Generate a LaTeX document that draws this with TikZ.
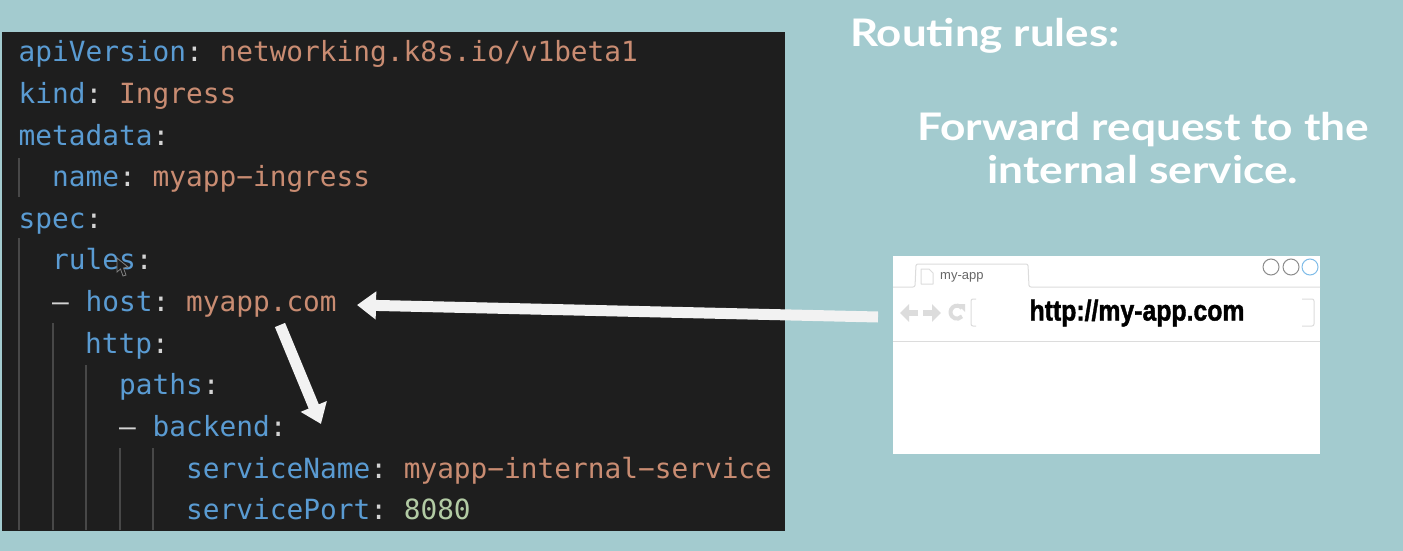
\documentclass[tikz,border=0pt]{standalone}
\usepackage{fontspec}
\usepackage{graphicx}
\usetikzlibrary{arrows.meta}
\setmonofont{DejaVu Sans Mono}
\setmainfont{Lato}
\newfontfamily\uifont{Liberation Sans}
\newfontfamily\urlfont[BoldFeatures={FakeBold=1.6}]{Liberation Sans}
\definecolor{bgteal}{HTML}{A3CBCF}
\definecolor{codebg}{HTML}{1E1E1E}
\definecolor{keyblue}{HTML}{5A9BD2}
\definecolor{valorange}{HTML}{C98C72}
\definecolor{numgreen}{HTML}{B2CBA4}
\definecolor{punct}{HTML}{D4D4D4}
\definecolor{guide}{HTML}{484848}
\definecolor{chrome}{HTML}{DCDCDC}
\definecolor{arrowwhite}{HTML}{F2F2F2}
\definecolor{winblue}{HTML}{7FBCE8}
\tikzset{
  codeline/.style={anchor=base west,inner sep=0pt,font=\ttfamily\fontsize{27.8}{30}\selectfont,text=keyblue},
  headline/.style={inner sep=0pt,text=white,font=\fontsize{38}{44}\selectfont\bfseries},
  guideline/.style={draw=guide,line width=1.2pt},
  bigarrow/.style={draw=arrowwhite,line width=11pt,-{Triangle[length=19pt,width=27pt,color=arrowwhite]}},
  navarrow/.style={draw=chrome,line width=6pt,-{Triangle[length=9pt,width=17pt,color=chrome]}},
  chromeline/.style={draw=chrome,line width=1pt},
  winbtn/.style={circle,draw=#1,line width=1pt,minimum size=16pt,inner sep=0pt}
}
\newcommand{\K}[1]{\textcolor{keyblue}{#1}}
\newcommand{\V}[1]{\textcolor{valorange}{#1}}
\newcommand{\C}{\textcolor{punct}{:}}
\newcommand{\D}{\textcolor{punct}{–}}
\begin{document}
\begin{tikzpicture}[x=1pt,y=-1pt]
\useasboundingbox (0,0) rectangle (1403,551);
\fill[bgteal] (0,0) rectangle (1403,551);
\node[fill=codebg,inner sep=0pt,minimum width=783pt,minimum height=499pt,anchor=north west] (code) at (2,32) {};
% indentation guides
\draw[guideline] (19,158)--(19,197) (19,238)--(19,530) (53,323)--(53,530) (86,365)--(86,530) (120,448)--(120,530) (153,448)--(153,530);
% code
\node[codeline] (l1) at (18.500,62) {\K{apiVersion}\C{} \V{networking.k8s.io/v1beta1}};
\node[codeline] (l2) at (18.500,103) {\K{kind}\C{} \V{Ingress}};
\node[codeline] (l3) at (18.500,145) {\K{metadata}\C};
\node[codeline] (l4) at (52,186) {\K{name}\C{} \V{myapp−ingress}};
\node[codeline] (l5) at (18.500,228) {\K{spec}\C};
\node[codeline] (l6) at (52,269) {\K{rules}\C};
\node[codeline] (l7) at (52,311) {\D{} \K{host}\C{} \V{myapp.com}};
\node[codeline] (l8) at (85,353) {\K{http}\C};
\node[codeline] (l9) at (119,394) {\K{paths}\C};
\node[codeline] (l10) at (119,436) {\D{} \K{backend}\C};
\node[codeline] (l11) at (186,478) {\K{serviceName}\C{} \V{myapp−internal−service}};
\node[codeline] (l12) at (186,519) {\K{servicePort}\C{} \textcolor{numgreen}{8080}};
% mouse pointer
\draw[fill=codebg,draw=gray,line width=.8pt] (117,258)--(117,272)--(120.500,269)--(123,276)--(126,275)--(123.500,268)--(128,267)--cycle;
% headings
\node[headline,anchor=west] (t1) at (850,36) {\scalebox{1.155}[1]{Routing rules:}};
\node[headline] (t2) at (1143,153) {\scalebox{1.165}[1]{\begin{tabular}{@{}c@{}}Forward request to the\\[-1pt]internal service.\end{tabular}}};
% browser
\node[fill=white,inner sep=0pt,minimum width=427pt,minimum height=198pt,anchor=north west] (browser) at (893,256) {};
\draw[chromeline,rounded corners=2pt] (893,287)--(915,287)--(916,264)--(1028,264)--(1029,287)--(1320,287);
\draw[chromeline] (893,341)--(1320,341);
\draw[chromeline,line join=round] (921,284)--(921,269)--(929,269)--(933,273)--(933,284)--cycle;
\node[anchor=west,inner sep=0pt,text=black!60,font=\uifont\fontsize{13}{13}\selectfont] (tab) at (940,277) {my-app};
\node[winbtn=black!45] (b1) at (1271,267) {};
\node[winbtn=black!45] (b2) at (1291,267) {};
\node[winbtn=winblue] (b3) at (1310,267) {};
% navigation glyphs
\coordinate (backr) at (918,313); \coordinate (backl) at (900,313);
\coordinate (fwdl) at (923,313); \coordinate (fwdr) at (941,313);
\draw[navarrow] (backr)--(backl);
\draw[navarrow] (fwdl)--(fwdr);
\draw[draw=chrome,line width=4pt] (962,308) arc[start angle=40,end angle=320,radius=6.500pt];
\fill[chrome] (957,304)--(965,304)--(965,312)--cycle;
\draw[chromeline,rounded corners=2pt] (976,299)--(971,299)--(971,326)--(976,326);
\draw[chromeline,rounded corners=2pt] (1302,299)--(1314,299)--(1314,326)--(1302,326);
\node[inner sep=0pt,text=black,font=\urlfont\fontsize{29}{29}\selectfont\bfseries] (url) at (1137,313) {\scalebox{.855}[1]{http://my-app.com}};
% arrows
\coordinate (hosttip) at (357,305);
\coordinate (browsertail) at (878,317);
\coordinate (downstart) at (280,325);
\coordinate (downtip) at (321,424);
\draw[bigarrow] (browsertail)--(hosttip);
\draw[bigarrow] (downstart)--(downtip);
\end{tikzpicture}
\end{document}
